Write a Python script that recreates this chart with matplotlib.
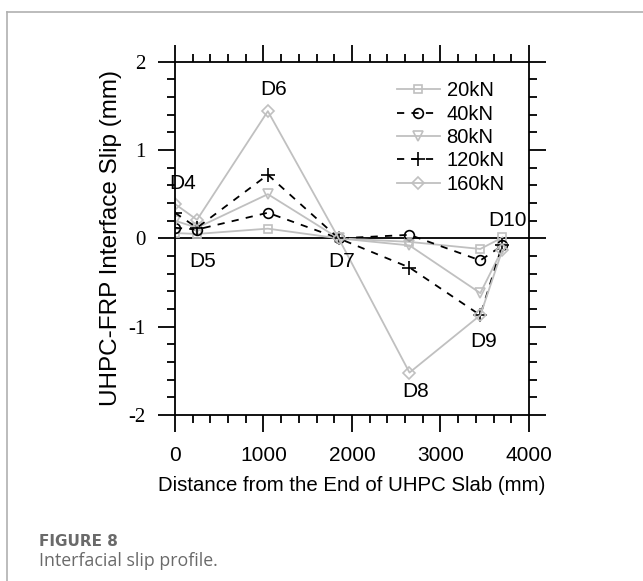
import matplotlib
matplotlib.use("Agg")
import matplotlib.pyplot as plt
from matplotlib.ticker import MultipleLocator
from matplotlib.lines import Line2D

plt.rcParams["axes.unicode_minus"] = False

# Data
positions = [0, 250, 1050, 1850, 2650, 3450, 3700]
loads = ["20kN", "40kN", "80kN", "120kN", "160kN"]
slip_20 = [0.06, 0.05, 0.11, 0.0, -0.04, -0.12, 0.01]
slip_40 = [0.12, 0.10, 0.29, 0.0, 0.04, -0.25, -0.08]
slip_80 = [0.20, 0.12, 0.50, 0.0, -0.08, -0.62, -0.12]
slip_120 = [0.29, 0.12, 0.72, 0.0, -0.33, -0.87, -0.07]
slip_160 = [0.39, 0.21, 1.44, 0.0, -1.52, -0.87, -0.13]
gauge_names = ["D4", "D5", "D6", "D7", "D8", "D9", "D10"]
label_x = [90, 313, 1112, 1885, 2715, 3488, 3760]
label_y = [0.62, -0.26, 1.68, -0.26, -1.73, -1.17, 0.20]

fig = plt.figure(figsize=(6.43, 5.81), dpi=100)
ax = fig.add_axes([0.272, 0.2857, 0.8227 - 0.272, 0.8938 - 0.2857])

gray = "#c0c0c0"
series = [slip_20, slip_40, slip_80, slip_120, slip_160]
styles = [
    dict(color=gray, ls="-", marker="s"),
    dict(color="black", ls=(0, (4, 4)), marker="o"),
    dict(color=gray, ls="-", marker="v"),
    dict(color="black", ls=(0, (4, 4)), marker="+"),
    dict(color=gray, ls="-", marker="D"),
]
sizes = [6, 7, 7, 10, 6]
for vals, lab, st, ms in zip(series, loads, styles, sizes):
    ax.plot(positions, vals, color=st["color"], ls=st["ls"], marker=st["marker"],
            markersize=ms, markerfacecolor="none", markeredgecolor=st["color"],
            markeredgewidth=1.2, lw=1.3, label=lab)

ax.axhline(0, color="black", lw=1.3, zorder=0.5)

for name, tx, ty in zip(gauge_names, label_x, label_y):
    ax.text(tx, ty, name, ha="center", va="center", fontsize=15,
            family="Liberation Sans")

ax.set_xlim(0, 4000)
ax.set_ylim(-2, 2)
ax.xaxis.set_major_locator(MultipleLocator(1000))
ax.xaxis.set_minor_locator(MultipleLocator(200))
ax.yaxis.set_major_locator(MultipleLocator(1))
ax.yaxis.set_minor_locator(MultipleLocator(0.2))
ax.tick_params(which="both", direction="out", top=True, right=True, width=1.3)
ax.tick_params(which="major", length=12)
ax.tick_params(which="minor", length=6)
ax.tick_params(axis="x", which="major", pad=10, labelsize=15,
               labelfontfamily="Liberation Sans")
ax.tick_params(axis="y", which="major", pad=9, labelsize=15,
               labelfontfamily="Liberation Serif")
for sp in ax.spines.values():
    sp.set_linewidth(1.3)

ax.set_xlabel("Distance from the End of UHPC Slab (mm)", fontsize=14.7,
              family="Liberation Sans", labelpad=8)
ax.set_ylabel("UHPC-FRP Interface Slip (mm)", fontsize=17.5,
              family="Liberation Sans")
ax.yaxis.set_label_coords(-0.15, 0.5)

leg = ax.legend(loc="upper left", bbox_to_anchor=(0.628, 0.945), frameon=False,
                prop={"family": "Liberation Sans", "size": 14.5},
                handlelength=2.1, handletextpad=0.35, labelspacing=0.22,
                borderaxespad=0, borderpad=0)

# figure frame and caption
fig.add_artist(Line2D([7 / 643, 1], [1 - 12 / 581, 1 - 12 / 581],
                      transform=fig.transFigure, color="#b0b0b0", lw=1.2))
fig.add_artist(Line2D([7 / 643, 7 / 643], [0, 1 - 12 / 581],
                      transform=fig.transFigure, color="#b0b0b0", lw=1.2))
fig.text(39 / 643, 1 - 542 / 581, "FIGURE 8", fontsize=11, fontweight="bold",
         color="#6a6a6a", family="DejaVu Sans", va="center")
fig.text(39 / 643, 1 - 561 / 581, "Interfacial slip profile.", fontsize=12.8,
         color="#6a6a6a", family="Open Sans", va="center")

fig.savefig("out.png", dpi=100)
